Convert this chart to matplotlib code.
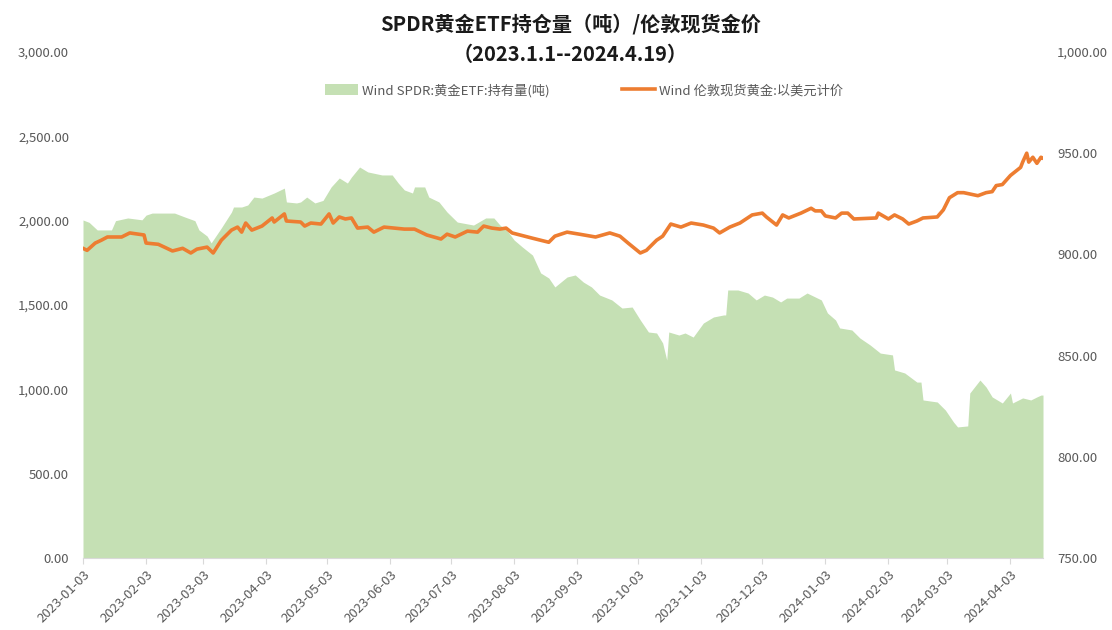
import matplotlib
matplotlib.use("Agg")
import matplotlib.pyplot as plt
from matplotlib.ticker import FuncFormatter, FixedLocator
from matplotlib.patches import Patch
from matplotlib.lines import Line2D
import pandas as pd

plt.rcParams['font.family'] = ['Noto Sans CJK SC', 'DejaVu Sans']

# ---- data ----
etf_dates = [
    "2023-01-03", "2023-01-06", "2023-01-10", "2023-01-17", "2023-01-19", "2023-01-25",
    "2023-02-01", "2023-02-03", "2023-02-06", "2023-02-17", "2023-02-22", "2023-02-27",
    "2023-03-01", "2023-03-05", "2023-03-07", "2023-03-12", "2023-03-17", "2023-03-18",
    "2023-03-22", "2023-03-25", "2023-03-28", "2023-04-01", "2023-04-07", "2023-04-12",
    "2023-04-13", "2023-04-18", "2023-04-20", "2023-04-23", "2023-04-27", "2023-05-01",
    "2023-05-02", "2023-05-05", "2023-05-09", "2023-05-13", "2023-05-15", "2023-05-19",
    "2023-05-23", "2023-05-30", "2023-06-04", "2023-06-07", "2023-06-10", "2023-06-14",
    "2023-06-15", "2023-06-20", "2023-06-22", "2023-06-27", "2023-07-01", "2023-07-06",
    "2023-07-14", "2023-07-20", "2023-07-24", "2023-07-27", "2023-07-31", "2023-08-03",
    "2023-08-07", "2023-08-12", "2023-08-16", "2023-08-20", "2023-08-23", "2023-08-29",
    "2023-09-02", "2023-09-06", "2023-09-10", "2023-09-14", "2023-09-20", "2023-09-25",
    "2023-09-30", "2023-10-04", "2023-10-08", "2023-10-12", "2023-10-15", "2023-10-17",
    "2023-10-18", "2023-10-23", "2023-10-26", "2023-10-30", "2023-11-04", "2023-11-09",
    "2023-11-14", "2023-11-15", "2023-11-16", "2023-11-21", "2023-11-26", "2023-11-30",
    "2023-12-04", "2023-12-08", "2023-12-12", "2023-12-15", "2023-12-21", "2023-12-25",
    "2024-01-01", "2024-01-04", "2024-01-08", "2024-01-10", "2024-01-16", "2024-01-20",
    "2024-01-25", "2024-01-30", "2024-02-05", "2024-02-06", "2024-02-11", "2024-02-17",
    "2024-02-19", "2024-02-20", "2024-02-27", "2024-03-02", "2024-03-06", "2024-03-08",
    "2024-03-13", "2024-03-14", "2024-03-19", "2024-03-22", "2024-03-25", "2024-03-30",
    "2024-04-03", "2024-04-04", "2024-04-09", "2024-04-13", "2024-04-16", "2024-04-18",
    "2024-04-19",
]
etf_values = [
    2004, 1990, 1945, 1945, 2000, 2016,
    2005, 2033, 2045, 2045, 2022, 2000,
    1945, 1909, 1868, 1957, 2051, 2081,
    2081, 2093, 2140, 2134, 2164, 2193,
    2111, 2105, 2111, 2140, 2105, 2120,
    2140, 2200, 2253, 2223, 2259, 2318,
    2289, 2271, 2271, 2223, 2182, 2164,
    2200, 2200, 2140, 2111, 2051, 1992,
    1974, 2016, 2016, 1974, 1933, 1885,
    1844, 1796, 1690, 1660, 1607, 1666,
    1678, 1636, 1607, 1559, 1530, 1482,
    1488, 1411, 1340, 1334, 1275, 1174,
    1340, 1322, 1334, 1310, 1393, 1429,
    1441, 1441, 1589, 1589, 1571, 1530,
    1559, 1547, 1518, 1541, 1541, 1571,
    1530, 1453, 1411, 1364, 1352, 1304,
    1263, 1215, 1204, 1115, 1097, 1043,
    1043, 937, 925, 877, 806, 777,
    783, 978, 1055, 1014, 955, 919,
    978, 919, 949, 937, 955, 966,
    966,
]

gold_dates = [
    "2023-01-03", "2023-01-05", "2023-01-09", "2023-01-12", "2023-01-15", "2023-01-22",
    "2023-01-26", "2023-02-02", "2023-02-03", "2023-02-09", "2023-02-12", "2023-02-16",
    "2023-02-21", "2023-02-25", "2023-02-28", "2023-03-05", "2023-03-08", "2023-03-12",
    "2023-03-17", "2023-03-20", "2023-03-22", "2023-03-24", "2023-03-27", "2023-04-01",
    "2023-04-06", "2023-04-07", "2023-04-12", "2023-04-13", "2023-04-20", "2023-04-22",
    "2023-04-25", "2023-04-30", "2023-05-04", "2023-05-06", "2023-05-09", "2023-05-12",
    "2023-05-15", "2023-05-18", "2023-05-23", "2023-05-26", "2023-05-31", "2023-06-05",
    "2023-06-10", "2023-06-15", "2023-06-21", "2023-06-28", "2023-07-01", "2023-07-05",
    "2023-07-11", "2023-07-16", "2023-07-19", "2023-07-23", "2023-07-27", "2023-07-30",
    "2023-08-02", "2023-08-12", "2023-08-20", "2023-08-23", "2023-08-29", "2023-09-04",
    "2023-09-12", "2023-09-19", "2023-09-24", "2023-09-28", "2023-10-04", "2023-10-07",
    "2023-10-12", "2023-10-15", "2023-10-19", "2023-10-24", "2023-10-29", "2023-11-04",
    "2023-11-09", "2023-11-12", "2023-11-17", "2023-11-22", "2023-11-28", "2023-12-03",
    "2023-12-05", "2023-12-10", "2023-12-13", "2023-12-16", "2023-12-22", "2023-12-27",
    "2023-12-29", "2024-01-01", "2024-01-03", "2024-01-08", "2024-01-11", "2024-01-14",
    "2024-01-17", "2024-01-28", "2024-01-29", "2024-02-03", "2024-02-06", "2024-02-10",
    "2024-02-13", "2024-02-17", "2024-02-20", "2024-02-27", "2024-03-01", "2024-03-04",
    "2024-03-08", "2024-03-11", "2024-03-18", "2024-03-22", "2024-03-25", "2024-03-27",
    "2024-03-30", "2024-04-03", "2024-04-08", "2024-04-09", "2024-04-11", "2024-04-12",
    "2024-04-14", "2024-04-16", "2024-04-18", "2024-04-19",
]
gold_values = [
    903, 902, 905.6, 907, 908.6, 908.6,
    910.6, 909.6, 905.6, 905, 903.6, 901.7,
    903, 900.7, 902.6, 903.6, 900.7, 907,
    912, 913.5, 911, 915.5, 912, 914,
    918, 916, 920, 916.5, 916, 914,
    915.5, 915, 920, 915.5, 918.5, 917.5,
    918, 913, 913.5, 911, 913.5, 913,
    912.5, 912.5, 909.6, 907.6, 910, 908.6,
    911.5, 911, 914, 913, 912.5, 913,
    910.6, 908, 906, 909, 911, 910,
    908.6, 910.6, 909, 905.6, 900.7, 902,
    907, 909, 915, 913.5, 915.5, 914.5,
    913, 910.6, 913.5, 915.5, 919.5, 920.4,
    918.5, 914.5, 919.5, 918, 920.4, 922.8,
    921.5, 921.5, 919, 918, 920.4, 920.4,
    917.5, 918, 920.4, 917.5, 919.5, 917.5,
    915, 916.5, 918, 918.5, 922, 928,
    930.5, 930.5, 929, 930.5, 931, 934,
    934.5, 939, 943, 945.6, 950, 945.6,
    948, 945, 948, 947.5,
]

title_line1 = "SPDR黄金ETF持仓量（吨）/伦敦现货金价"
title_line2 = "（2023.1.1--2024.4.19）"
etf_label = "Wind SPDR:黄金ETF:持有量(吨)"
gold_label = "Wind 伦敦现货黄金:以美元计价"
left_ticks = [0, 500, 1000, 1500, 2000, 2500, 3000]
right_ticks = [750, 800, 850, 900, 950, 1000]
x_ticks = ["2023-01-03", "2023-02-03", "2023-03-03", "2023-04-03", "2023-05-03",
           "2023-06-03", "2023-07-03", "2023-08-03", "2023-09-03", "2023-10-03",
           "2023-11-03", "2023-12-03", "2024-01-03", "2024-02-03", "2024-03-03",
           "2024-04-03"]

# ---- plot ----
green = "#c5e0b4"
orange = "#ed7d31"
grey = "#595959"

fig = plt.figure(figsize=(11.12, 6.30), dpi=100)
ax = fig.add_axes([83/1112, 1-558/630, (1043-83)/1112, (558-52)/630])
ax2 = ax.twinx()

ed = pd.to_datetime(etf_dates)
gd = pd.to_datetime(gold_dates)
ax.fill_between(ed, etf_values, 0, color=green, linewidth=0)
ax2.plot(gd, gold_values, color=orange, linewidth=2.6, solid_joinstyle='round')

ax.set_xlim(pd.Timestamp("2023-01-03"), pd.Timestamp("2024-04-19"))
ax.set_ylim(0, 3000)
ax2.set_ylim(750, 1000)

ax.yaxis.set_major_locator(FixedLocator(left_ticks))
ax.yaxis.set_major_formatter(FuncFormatter(lambda v, p: f"{v:,.2f}"))
ax2.yaxis.set_major_locator(FixedLocator(right_ticks))
ax2.yaxis.set_major_formatter(FuncFormatter(lambda v, p: f"{v:,.2f}"))

xt = pd.to_datetime(x_ticks)
ax.set_xticks(xt)
ax.set_xticklabels([d.strftime("%Y-%m-%d") for d in xt], rotation=45, ha='right',
                   rotation_mode='anchor')

for a in (ax, ax2):
    for s in a.spines.values():
        s.set_visible(False)
ax.spines['bottom'].set_visible(True)
ax.spines['bottom'].set_color("#d9d9d9")

ax.tick_params(axis='y', length=0, labelsize=9.5, labelcolor=grey, pad=10)
ax2.tick_params(axis='y', length=0, labelsize=9.5, labelcolor=grey, pad=10)
ax.tick_params(axis='x', length=4, color="#d9d9d9", labelsize=9.5, labelcolor=grey, pad=3)
for lbl in ax.get_xticklabels():
    lbl.set_x(0)

fig.text(0.513, 0.962, title_line1, ha='center', va='center',
         fontsize=14.5, fontweight='bold', color="#1a1a1a")
fig.text(0.513, 0.913, title_line2, ha='center', va='center',
         fontsize=14.5, fontweight='bold', color="#1a1a1a")

handles = [Patch(facecolor=green, edgecolor='none'),
           Line2D([0], [0], color=orange, linewidth=2.6)]
leg = fig.legend(handles, [etf_label, gold_label], loc='center', bbox_to_anchor=(0.525, 0.856),
                 ncol=2, frameon=False, fontsize=9.5, columnspacing=5.5, handlelength=2.5,
                 handleheight=0.9, handletextpad=0.3)
for t in leg.get_texts():
    t.set_color(grey)

fig.savefig("out.png", dpi=100)
